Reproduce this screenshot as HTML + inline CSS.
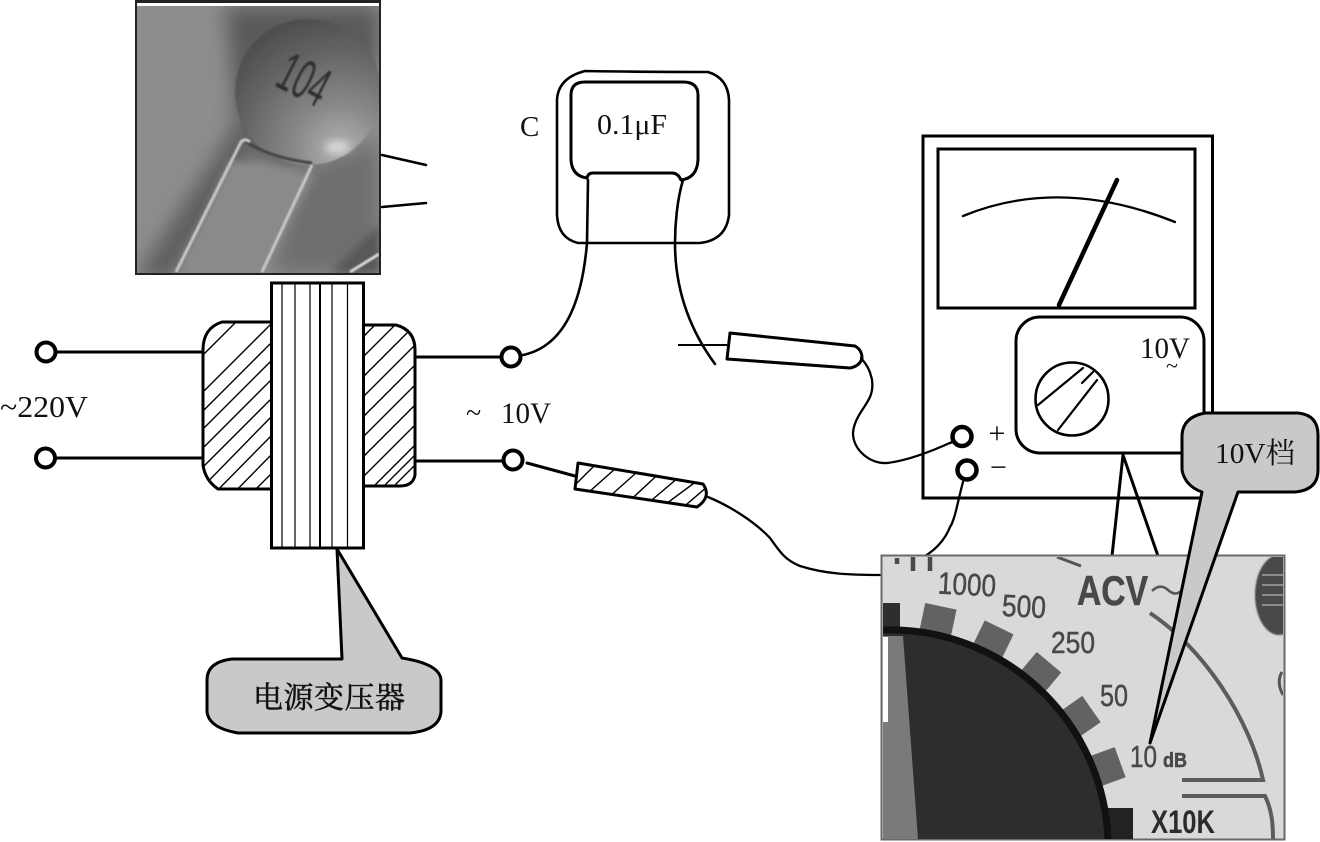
<!DOCTYPE html>
<html><head><meta charset="utf-8"><style>
html,body{margin:0;padding:0;background:#fff;width:1320px;height:842px;overflow:hidden}
svg{display:block;overflow:hidden}
text{font-family:"Liberation Serif","Noto Serif CJK SC",serif;fill:#111}
.s{font-family:"Liberation Sans",sans-serif;fill:#484848;stroke:#484848;stroke-width:.5}
.k{fill:none;stroke:#000;stroke-linecap:round;stroke-linejoin:round}
</style></head><body>
<svg width="1320" height="842" viewBox="0 0 1320 842" xmlns="http://www.w3.org/2000/svg">
<defs>
<filter id="b4" x="-30%" y="-30%" width="160%" height="160%"><feGaussianBlur stdDeviation="4"/></filter>
<filter id="b10" x="-40%" y="-40%" width="180%" height="180%"><feGaussianBlur stdDeviation="10"/></filter>
<filter id="b1"><feGaussianBlur stdDeviation="0.8"/></filter>
<clipPath id="p1"><rect x="137" y="6" width="242" height="267"/></clipPath>
<clipPath id="p2"><rect x="883" y="557" width="400" height="282"/></clipPath>
<clipPath id="cl"><path d="M271,322H222Q203,328 203,350V465Q205,480 218,489H271Z"/></clipPath>
<clipPath id="cr"><path d="M364,325H396Q415,330 415,350V475Q413,486 400,486H364Z"/></clipPath>
<clipPath id="pb"><path d="M578,463L703,484Q712,497 697,507L575,489Z"/></clipPath>
<radialGradient id="disc" cx="0.72" cy="0.9" r="1"><stop offset="0" stop-color="#b4b4b4"/><stop offset="0.3" stop-color="#8a8a8a"/><stop offset="0.7" stop-color="#626262"/><stop offset="1" stop-color="#484848"/></radialGradient>
</defs>

<!-- capacitor photo -->
<rect x="135" y="0" width="246" height="275" fill="#222"/>
<rect x="137" y="3" width="242" height="3" fill="#fff"/>
<g clip-path="url(#p1)">
<rect x="137" y="6" width="242" height="267" fill="#8d8d8d"/>
<path d="M225,6H379V60L300,170L240,150Z" fill="#5a5a5a" filter="url(#b10)"/>
<path d="M240,120L250,160L170,280L135,280Z" fill="#5c5c5c" filter="url(#b10)"/>
<path d="M300,170L379,140V273H270Z" fill="#6e6e6e" filter="url(#b10)"/>
<path d="M330,273L379,225V273Z" fill="#585858" filter="url(#b4)"/>
<path d="M230,160L315,175L262,273H178Z" fill="#8a8a8a" filter="url(#b4)"/>
<circle cx="308" cy="92" r="73" fill="url(#disc)" filter="url(#b1)"/>
<path d="M245,141Q270,158 312,163" fill="none" stroke="#444" stroke-width="3" filter="url(#b1)"/>
<ellipse cx="337" cy="147" rx="12" ry="6" fill="#d8d8d8" filter="url(#b4)"/>
<text transform="translate(273,85) rotate(27)" font-size="56" textLength="50" lengthAdjust="spacingAndGlyphs" style="font-family:'Liberation Sans',sans-serif;fill:#2d2d2d" filter="url(#b1)">104</text>
<path d="M176,272L241,142Q245,138 250,142" fill="none" stroke="#c8c8c8" stroke-width="3" filter="url(#b1)"/>
<path d="M262,272L312,165" fill="none" stroke="#c8c8c8" stroke-width="3" filter="url(#b1)"/>
<path d="M350,272L379,254" fill="none" stroke="#d8d8d8" stroke-width="3" filter="url(#b1)"/>
</g>
<g class="k" stroke-width="2.5">
<path d="M382,155L426,165M382,207L426,203"/>
</g>

<!-- transformer -->
<g clip-path="url(#cl)" class="k" stroke-width="1.4" style="stroke-linecap:butt">
<path d="M150,390L240,300M150,408L271,287M150,445L271,324M150,464L271,343M150,482L271,361M150,501L271,380M165,505L271,399M185,505L271,417M203,505L271,436M222,505L271,455M240,505L271,474"/>
</g>
<g clip-path="url(#cr)" class="k" stroke-width="1.4" style="stroke-linecap:butt">
<path d="M340,360L395,305M340,380L420,300M340,400L420,320M340,420L430,330M340,440L430,350M340,460L430,370M340,480L430,390M340,500L430,410M345,515L430,430M370,510L430,450M380,490L430,440"/>
</g>
<path d="M271,322H222Q203,328 203,350V465Q205,480 218,489H271" class="k" stroke-width="3"/>
<path d="M364,325H396Q415,330 415,350V475Q413,486 400,486H364" class="k" stroke-width="3"/>
<rect x="271.5" y="283" width="92" height="265" fill="#fff" stroke="#000" stroke-width="3"/>
<path d="M282,283V548M295,283V548M310,283V548M332,283V548M347.5,283V548" stroke="#000" stroke-width="1.2"/>
<path d="M320,283V548" stroke="#000" stroke-width="2"/>
<path d="M46,352H203M46,458H203M416,357H505M416,461H507" class="k" stroke-width="3"/>
<g fill="#fff" stroke="#000" stroke-width="4">
<circle cx="46" cy="352" r="9.5"/><circle cx="45.500" cy="458" r="9.5"/>
<circle cx="511" cy="357" r="9.5"/><circle cx="513" cy="460" r="9.500"/>
</g>
<text x="0" y="417" font-size="31" textLength="88" lengthAdjust="spacingAndGlyphs">~220V</text>
<text x="466" y="422" font-size="28">~</text>
<text x="501" y="423" font-size="30" textLength="50" lengthAdjust="spacingAndGlyphs">10V</text>

<!-- transformer callout -->
<path d="M337,549L342,659H232Q207,662 207,680V712Q209,728 238,733H410Q441,730 441,710V680Q440,664 402,658Z" fill="#c9c9c9" stroke="#000" stroke-width="3" stroke-linejoin="round"/>
<text x="253" y="708" font-size="30" textLength="152" style="font-family:'Noto Serif CJK SC',serif;stroke:#111;stroke-width:.5">电源变压器</text>

<!-- film capacitor -->
<path d="M585,71Q640,72 708,72Q728,78 729,100V215Q726,240 700,243H578Q558,238 557,215V100Q558,78 585,71Z" class="k" stroke-width="2.600"/>
<path d="M587,178Q572,176 571,160V95Q571,82 585,82H683Q698,82 698,95V160Q697,178 681,180Q678,173 672,173H593Q588,173 587,178Z" class="k" stroke-width="3"/>
<path d="M588,180L587,243C583,290 570,345 523,355" class="k" stroke-width="2.600"/>
<path d="M683,180C677,200 675,225 675,243C675,290 690,330 715,364" class="k" stroke-width="2.600"/>
<text x="597" y="134" font-size="29" textLength="70" lengthAdjust="spacingAndGlyphs">0.1μF</text>
<text x="520" y="136" font-size="29">C</text>

<!-- probe 1 -->
<path d="M678,345H728" stroke="#000" stroke-width="2"/>
<path d="M730,333L855,346Q862,350 862,358Q860,366 850,368L727,359Z" fill="#fff" stroke="#000" stroke-width="3" stroke-linejoin="round"/>
<path d="M861,358C872,370 875,385 870,397C865,408 854,418 853,433C853,450 870,464 887,463C905,461 930,452 952,442" class="k" stroke-width="2.300"/>

<!-- probe 2 -->
<path d="M527,463L575,476" class="k" stroke-width="3"/>
<g clip-path="url(#pb)" class="k" stroke-width="1.400">
<path d="M560,500L600,460M580,500L625,460M600,505L645,465M625,505L665,468M640,510L685,472M655,512L705,475M680,510L715,480M695,510L715,495"/>
</g>
<path d="M578,463L703,484Q712,497 697,507L575,489Z" fill="none" stroke="#000" stroke-width="3" stroke-linejoin="round"/>
<path d="M708,497C730,506 755,522 770,538C780,552 785,560 800,566C825,574 850,575 880,575" class="k" stroke-width="2.300"/>

<!-- meter -->
<path d="M923,136H1212.500V498H923Z" fill="none" stroke="#000" stroke-width="3"/>
<rect x="938" y="149" width="257" height="159" fill="#fff" stroke="#000" stroke-width="3"/>
<path d="M963,216Q1060,176 1175,222" class="k" stroke-width="2.300"/>
<path d="M1117,180L1059,305" class="k" stroke-width="4.500"/>
<rect x="1016" y="317" width="188" height="136" rx="24" fill="#fff" stroke="#000" stroke-width="3"/>
<circle cx="1072" cy="399" r="36.500" fill="#fff" stroke="#000" stroke-width="2.600"/>
<path d="M1038,405L1083,368M1058,430L1097,380M1082,383L1093,372" class="k" stroke-width="2.200"/>
<text x="1140" y="358" font-size="30" textLength="50" lengthAdjust="spacingAndGlyphs">10V</text>
<text x="1166" y="373" font-size="22">~</text>
<text x="988.500" y="443" font-size="30">+</text>
<text x="990" y="477" font-size="30">−</text>
<path d="M950,443L958,440" class="k" stroke-width="2.300"/>
<path d="M963,482C958,500 955,520 950,527C945,540 935,550 925,556" class="k" stroke-width="2.300"/>
<g fill="#fff" stroke="#000" stroke-width="4.500">
<circle cx="962" cy="436.500" r="9.500"/><circle cx="967" cy="470" r="9.500"/>
</g>
<path d="M1123,455L1112,556M1123,455L1158,556" class="k" stroke-width="3"/>

<!-- switch photo -->
<rect x="881.500" y="555.500" width="403" height="284" fill="#d9d9d9" stroke="#6a6a6a" stroke-width="2"/>
<g clip-path="url(#p2)">
<ellipse cx="1279" cy="595" rx="24" ry="40" fill="#4a4a4a" filter="url(#b1)"/>
<path d="M1262,575H1283M1262,585H1283M1262,595H1283M1262,605H1283" stroke="#8c8c8c" stroke-width="2"/>
<path d="M1282,672Q1276,682 1283,695" fill="none" stroke="#555" stroke-width="3"/>
<path d="M1057,557L1081,566" stroke="#555" stroke-width="3"/>
<path d="M897,558V564M913,557V571M930,557V571" stroke="#4a4a4a" stroke-width="4.500"/>
<!-- scale ticks -->
<g fill="#626262">
<rect x="922" y="606" width="32" height="28" transform="rotate(12 938 620)"/>
<rect x="977" y="626" width="32" height="28" transform="rotate(26 993 640)"/>
<rect x="1024" y="659" width="32" height="28" transform="rotate(40 1040 673)"/>
<rect x="1064" y="703" width="32" height="28" transform="rotate(55 1080 717)"/>
<rect x="1091" y="753" width="32" height="28" transform="rotate(70 1107 767)"/>
</g>
<rect x="883" y="603" width="17" height="28" fill="#2e2e2e"/>
<rect x="1105" y="808" width="28" height="31" fill="#222"/>
<path d="M883,630A218,218 0 0 1 1108,839H883Z" fill="#2d2d2d"/>
<path d="M883,630A218,218 0 0 1 1108,839" fill="none" stroke="#111" stroke-width="7"/>
<path d="M883,636H903L918,839H883Z" fill="#7a7a7a"/>
<rect x="883" y="637" width="5" height="85" fill="#fff"/>
<path d="M1150,613C1205,650 1250,720 1263,780H1182" fill="none" stroke="#5c5c5c" stroke-width="4"/>
<path d="M1182,796H1265C1272,810 1273,825 1273,839" fill="none" stroke="#5c5c5c" stroke-width="4"/>
<path d="M1152,591Q1160,583 1168,590T1182,590" fill="none" stroke="#555" stroke-width="2.500"/>
<text class="s" x="938" y="595" font-size="31" textLength="58" lengthAdjust="spacingAndGlyphs" transform="rotate(3 967 585)">1000</text>
<text class="s" x="1002" y="617" font-size="31" textLength="44" lengthAdjust="spacingAndGlyphs" transform="rotate(3 1024 607)">500</text>
<text class="s" x="1051" y="653" font-size="31" textLength="44" lengthAdjust="spacingAndGlyphs">250</text>
<text class="s" x="1100" y="706" font-size="31" textLength="28" lengthAdjust="spacingAndGlyphs">50</text>
<text class="s" x="1130" y="767" font-size="31" textLength="27" lengthAdjust="spacingAndGlyphs">10</text>
<text class="s" x="1163" y="767" font-size="20" font-weight="bold" textLength="24" lengthAdjust="spacingAndGlyphs">dB</text>
<text class="s" x="1077" y="605" font-size="42" font-weight="bold" textLength="71" lengthAdjust="spacingAndGlyphs">ACV</text>
<text class="s" x="1151" y="833" font-size="32" font-weight="bold" textLength="64" lengthAdjust="spacingAndGlyphs" style="fill:#2c2c2c;stroke:none">X10K</text>
</g>

<!-- 10V callout -->
<path d="M1202,492L1150,743L1238,492H1295Q1318,490 1318,470V435Q1318,415 1298,413H1205Q1183,417 1182,435V470Q1185,486 1202,492Z" fill="#c9c9c9" stroke="#000" stroke-width="3" stroke-linejoin="round"/>
<text x="1215" y="463" font-size="29" textLength="80" lengthAdjust="spacingAndGlyphs">10V档</text>
</svg>
</body></html>
